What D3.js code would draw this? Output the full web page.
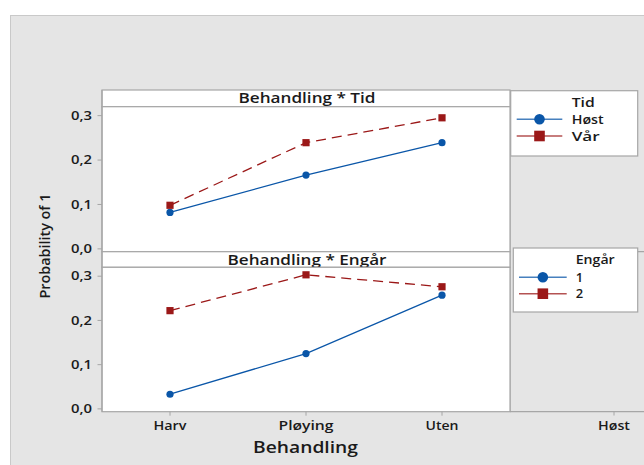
<!DOCTYPE html>
<html>
<head>
<meta charset="utf-8">
<script src="https://cdn.jsdelivr.net/npm/d3@7"></script>
<style>
  html, body { margin: 0; padding: 0; background: #ffffff; }
  svg { display: block; }
  text { font-family: "Open Sans", "Noto Sans", sans-serif; font-weight: 600; fill: #1a1a1a; }
</style>
</head>
<body>
<svg id="chart" width="644" height="465"></svg>
<script>
// Interaction plot: fitted probability of 1 by Behandling, split by Tid and Engår
const behandling = ["Harv", "Pløying", "Uten"];
const yTicks = [0.0, 0.1, 0.2, 0.3];

const tidLevels = ["Høst", "Vår"];
const tidHost = [0.081, 0.165, 0.238];
const tidVar  = [0.097, 0.238, 0.294];

const engarLevels = ["1", "2"];
const engar1 = [0.032, 0.124, 0.256];
const engar2 = [0.221, 0.302, 0.275];

const thirdPanelTicks = ["Høst"];

const panels = [
  { title: "Behandling * Tid", legendTitle: "Tid", levels: tidLevels, series: [tidHost, tidVar] },
  { title: "Behandling * Engår", legendTitle: "Engår", levels: engarLevels, series: [engar1, engar2] }
];

const colors = ["#0a56a8", "#9b1818"];
const dashes = [null, "10,6"];
const frame = "#a6a6a6";

// Label widths: the graphic uses a broad face, so glyphs are stretched to these widths
const textWidths = {
  "Behandling * Tid": 137, "Behandling * Engår": 159, "Behandling": 105,
  "Harv": 33, "Pløying": 55, "Uten": 33, "Høst": 32, "Vår": 28, "Tid": 23,
  "Engår": 39, "Probability of 1": 105
};
const fit = sel => sel.each(function () {
  const t = d3.select(this).text();
  if (textWidths[t]) d3.select(this).attr("textLength", textWidths[t]).attr("lengthAdjust", "spacingAndGlyphs");
});

const svg = d3.select("#chart");

// Outer gray backdrop
svg.append("rect")
  .attr("x", 10.5).attr("y", 15.5)
  .attr("width", 700).attr("height", 500)
  .attr("fill", "#e5e5e5").attr("stroke", "#c9c9c9").attr("stroke-width", 1);

const left = 102, right = 510;
const x = d3.scaleBand().domain(behandling).range([left, right]);
const xc = d => x(d) + x.bandwidth() / 2;

// Row geometry: strip top, plot top, plot bottom
const rows = [
  { stripTop: 90, plotTop: 106.7, plotBottom: 251.7 },
  { stripTop: 251.7, plotTop: 267.3, plotBottom: 411.7 }
];
const legendBoxes = [
  { x: 510.7, y: 90.7, w: 127, h: 65.3, lineX0: 516.7, lineX1: 562.3, textX: 571.7, titleY: 106.7, rowY: [119.3, 136] },
  { x: 513.3, y: 248, w: 124.4, h: 64, lineX0: 519, lineX1: 566.7, textX: 575.7, titleY: 263.7, rowY: [277.3, 293.7] }
];

// Third column frame, partly outside the view
svg.append("line").attr("x1", right).attr("x2", right).attr("y1", 90).attr("y2", 411.7)
  .attr("stroke", frame).attr("stroke-width", 1.2);
svg.append("line").attr("x1", right).attr("x2", 700).attr("y1", 411.7).attr("y2", 411.7)
  .attr("stroke", frame).attr("stroke-width", 1.2);
svg.append("line").attr("x1", 637).attr("x2", 700).attr("y1", 251.7).attr("y2", 251.7)
  .attr("stroke", frame).attr("stroke-width", 1.2);
const x3 = d3.scalePoint().domain(thirdPanelTicks).range([614, 614]);
thirdPanelTicks.forEach(t => {
  svg.append("line").attr("x1", x3(t)).attr("x2", x3(t)).attr("y1", 411.7).attr("y2", 415.5)
    .attr("stroke", frame).attr("stroke-width", 1);
  svg.append("text").attr("x", x3(t)).attr("y", 430).attr("text-anchor", "middle")
    .attr("font-size", 13).text(t).call(fit);
});

panels.forEach((p, i) => {
  const r = rows[i];
  const y = d3.scaleLinear().domain([-0.0075, 0.319]).range([r.plotBottom, r.plotTop]);

  // strip
  svg.append("rect").attr("x", left).attr("y", r.stripTop)
    .attr("width", right - left).attr("height", r.plotTop - r.stripTop)
    .attr("fill", "#ffffff").attr("stroke", frame).attr("stroke-width", 1.2);
  svg.append("text").attr("x", (left + right) / 2 + 1).attr("y", r.stripTop + 13.3)
    .attr("text-anchor", "middle").attr("font-size", 13.5).text(p.title).call(fit);

  // plot area
  svg.append("rect").attr("x", left).attr("y", r.plotTop)
    .attr("width", right - left).attr("height", r.plotBottom - r.plotTop)
    .attr("fill", "#ffffff").attr("stroke", frame).attr("stroke-width", 1.2);

  // y axis
  const yAxis = d3.axisLeft(y).tickValues(yTicks).tickSize(4.5).tickPadding(5.5)
    .tickFormat(d => d3.format(".1f")(d).replace(".", ","));
  const ga = svg.append("g").attr("transform", `translate(${left},0)`).call(yAxis);
  ga.select(".domain").remove();
  ga.selectAll(".tick line").attr("stroke", frame).attr("stroke-width", 1);
  ga.selectAll(".tick text").attr("font-size", 13).attr("fill", "#1a1a1a")
    .attr("font-family", null).attr("textLength", 21).attr("lengthAdjust", "spacingAndGlyphs");

  // series
  p.series.forEach((vals, s) => {
    const line = d3.line().x((d, k) => xc(behandling[k])).y(d => y(d));
    svg.append("path").datum(vals).attr("d", line)
      .attr("fill", "none").attr("stroke", colors[s]).attr("stroke-width", 1.3)
      .attr("stroke-dasharray", dashes[s]);
    vals.forEach((v, k) => {
      if (s === 0) {
        svg.append("circle").attr("cx", xc(behandling[k])).attr("cy", y(v)).attr("r", 3.6)
          .attr("fill", colors[s]);
      } else {
        svg.append("rect").attr("x", xc(behandling[k]) - 3.6).attr("y", y(v) - 3.6)
          .attr("width", 7.2).attr("height", 7.2).attr("fill", colors[s]);
      }
    });
  });

  // legend
  const L = legendBoxes[i];
  svg.append("rect").attr("x", L.x).attr("y", L.y).attr("width", L.w).attr("height", L.h)
    .attr("fill", "#ffffff").attr("stroke", frame).attr("stroke-width", 1.2);
  svg.append("text").attr("x", L.textX).attr("y", L.titleY).attr("font-size", 13)
    .text(p.legendTitle).call(fit);
  p.levels.forEach((lv, s) => {
    const ly = L.rowY[s];
    const mx = (L.lineX0 + L.lineX1) / 2;
    svg.append("line").attr("x1", L.lineX0).attr("x2", L.lineX1).attr("y1", ly).attr("y2", ly)
      .attr("stroke", colors[s]).attr("stroke-opacity", 0.75).attr("stroke-width", 1.5);
    if (s === 0) {
      svg.append("circle").attr("cx", mx).attr("cy", ly).attr("r", 5.3).attr("fill", colors[s]);
    } else {
      svg.append("rect").attr("x", mx - 5.3).attr("y", ly - 5.3).attr("width", 10.6).attr("height", 10.6)
        .attr("fill", colors[s]);
    }
    svg.append("text").attr("x", L.textX).attr("y", ly + 4.5).attr("font-size", 13).text(lv).call(fit);
  });
});

// left axis spine through both rows
svg.append("line").attr("x1", left).attr("x2", left).attr("y1", 90).attr("y2", 411.7)
  .attr("stroke", frame).attr("stroke-width", 1.2);

// x axis
const xAxis = d3.axisBottom(x).tickSize(4).tickPadding(6);
const gx = svg.append("g").attr("transform", "translate(0,411.7)").call(xAxis);
gx.select(".domain").remove();
gx.selectAll(".tick line").attr("stroke", frame).attr("stroke-width", 1);
gx.selectAll(".tick text").attr("font-size", 13).attr("fill", "#1a1a1a").attr("font-family", null)
  .attr("dy", null).attr("y", 18.3).call(fit);

// axis titles
svg.append("text").attr("x", 305.5).attr("y", 452.7).attr("text-anchor", "middle")
  .attr("font-size", 16.5).text("Behandling").call(fit);
svg.append("text").attr("transform", "translate(49.5,246) rotate(-90)")
  .attr("text-anchor", "middle").attr("font-size", 13.5).text("Probability of 1").call(fit);
</script>
</body>
</html>
